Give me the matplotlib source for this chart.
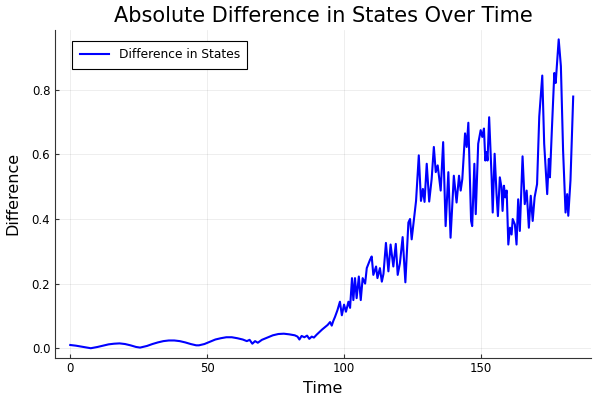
import matplotlib
matplotlib.use("Agg")
import matplotlib.pyplot as plt

# time values
time = [
    0, 2, 4, 6, 7.5, 10, 12, 14, 16, 18, 20, 22, 24, 25.5, 28, 30, 32, 34, 36, 38,
    40, 42, 44, 46, 47, 49, 51, 53, 55, 57, 59, 61, 63, 64.5, 65.5, 66.5, 67.5, 68.5,
    70, 72, 74, 76, 78, 80, 82, 83, 83.7, 84.5, 85.5, 86.5, 87.3, 88.2, 89, 90,
    91, 92, 93, 94, 94.9, 95.5, 96.1, 96.7, 97.6, 98.5, 99.2, 100, 100.7, 101.6,
    102.2, 102.9, 103.4, 104, 104.6, 105.4, 106.1, 106.8, 107.7, 108.3, 109.5,
    110.1, 110.7, 111.7, 112.2, 113.1, 113.8, 114.4, 115.3, 116.2, 117, 118,
    118.9, 119.6, 120.4, 121.4, 122.4, 123.5, 124.1, 124.7, 125.5, 126.3, 127.3,
    128.1, 128.8, 129.4, 130.2, 131.1, 132, 132.8, 133.5, 134.2, 135.3, 136.2,
    137.1, 138.1, 138.9, 140.1, 141.1, 142, 142.6, 143.2, 144.2, 144.8, 145.4,
    146.4, 146.8, 147.6, 148.1, 149, 149.9, 150.5, 151.1, 151.6, 152.1, 152.4,
    153, 153.9, 154.3, 155, 155.7, 156.2, 156.9, 157.5, 157.9, 158.4, 158.9,
    159.4, 160, 160.6, 161.2, 161.6, 162.4, 163, 163.6, 164.2, 165.2, 166, 166.7,
    167.5, 168.2, 168.9, 169.6, 170.5, 171.3, 172.4, 173.1, 174.2, 174.8, 175.2,
    175.9, 176.8, 177.3, 178.4, 179.2, 180, 180.9, 181.5, 181.9, 182.7, 183.7,
]

# absolute difference
difference = [
    0.010, 0.008, 0.005, 0.002, 0.000, 0.004, 0.008, 0.012, 0.014, 0.015, 0.013,
    0.009, 0.004, 0.002, 0.007, 0.013, 0.018, 0.022, 0.024, 0.024, 0.022, 0.018,
    0.013, 0.009, 0.009, 0.013, 0.020, 0.027, 0.031, 0.034, 0.034, 0.031, 0.027,
    0.022, 0.026, 0.014, 0.022, 0.017, 0.026, 0.033, 0.040, 0.044, 0.045, 0.043,
    0.040, 0.036, 0.027, 0.038, 0.034, 0.039, 0.029, 0.036, 0.033, 0.042,
    0.050, 0.058, 0.065, 0.072, 0.081, 0.070, 0.085, 0.097, 0.118, 0.144, 0.102,
    0.135, 0.113, 0.144, 0.125, 0.217, 0.149, 0.217, 0.155, 0.222, 0.149,
    0.217, 0.200, 0.248, 0.274, 0.284, 0.227, 0.253, 0.217, 0.248, 0.206,
    0.230, 0.326, 0.238, 0.321, 0.253, 0.323, 0.227, 0.263, 0.344, 0.204,
    0.389, 0.400, 0.337, 0.396, 0.456, 0.597, 0.456, 0.493, 0.453, 0.571,
    0.454, 0.524, 0.623, 0.545, 0.566, 0.488, 0.638, 0.378, 0.545, 0.342,
    0.534, 0.451, 0.534, 0.488, 0.524, 0.665, 0.623, 0.698, 0.394, 0.378,
    0.571, 0.415, 0.633, 0.675, 0.654, 0.680, 0.581, 0.607, 0.581, 0.715,
    0.529, 0.420, 0.602, 0.477, 0.409, 0.529, 0.498, 0.425, 0.503, 0.467,
    0.488, 0.321, 0.373, 0.352, 0.400, 0.383, 0.321, 0.461, 0.363, 0.594,
    0.446, 0.488, 0.373, 0.472, 0.394, 0.467, 0.508, 0.717, 0.844, 0.633,
    0.477, 0.586, 0.529, 0.675, 0.852, 0.821, 0.956, 0.873, 0.613, 0.420,
    0.477, 0.410, 0.519, 0.779,
]

fig = plt.figure(figsize=(6, 4), dpi=100)
ax = fig.add_axes([0.092, 0.106, 0.893, 0.819])

ax.plot(time, difference, color="#0000ff", linewidth=1.5, label="Difference in States")

ax.set_xlim(-5.5, 190.2)
ax.set_ylim(-0.029, 0.985)
ax.set_xticks([0, 50, 100, 150])
ax.set_yticks([0.0, 0.2, 0.4, 0.6, 0.8])
ax.set_yticklabels(["0.0", "0.2", "0.4", "0.6", "0.8"])

ax.grid(True, color="black", alpha=0.08, linewidth=0.6)
for side in ["top", "right"]:
    ax.spines[side].set_visible(False)
for side in ["left", "bottom"]:
    ax.spines[side].set_color("#333333")
ax.tick_params(direction="in", length=3, labelsize=8.5, color="#333333")

ax.set_title("Absolute Difference in States Over Time", fontsize=15)
ax.set_xlabel("Time", fontsize=11.5)
ax.set_ylabel("Difference", fontsize=11.5, labelpad=8)

leg = ax.legend(loc="upper left", bbox_to_anchor=(0.032, 0.966), borderaxespad=0,
                fontsize=8.8, fancybox=False, framealpha=1, edgecolor="black",
                borderpad=0.6, handlelength=2.4)
leg.get_frame().set_linewidth(0.8)

fig.savefig("out.png", dpi=100)
